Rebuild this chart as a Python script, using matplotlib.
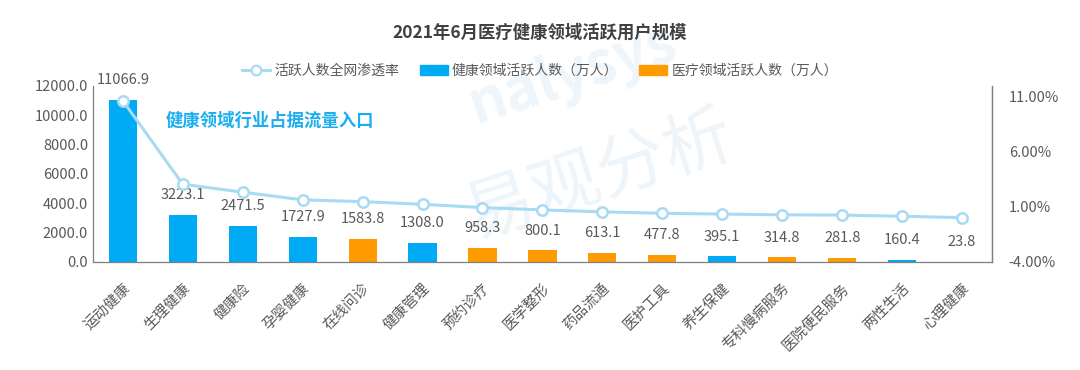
import matplotlib
matplotlib.use("Agg")
import matplotlib.pyplot as plt
from matplotlib.patches import Patch
from matplotlib.lines import Line2D
from matplotlib.ticker import FuncFormatter

plt.rcParams['font.family'] = ['Noto Sans CJK SC', 'DejaVu Sans']

categories = ["运动健康", "生理健康", "健康险", "孕婴健康", "在线问诊", "健康管理", "预约诊疗",
              "医学整形", "药品流通", "医护工具", "养生保健", "专科慢病服务", "医院便民服务",
              "两性生活", "心理健康"]
active_users = [11066.9, 3223.1, 2471.5, 1727.9, 1583.8, 1308.0, 958.3, 800.1, 613.1,
                477.8, 395.1, 314.8, 281.8, 160.4, 23.8]
domain = ["健康", "健康", "健康", "健康", "医疗", "健康", "医疗", "医疗", "医疗", "医疗",
          "健康", "医疗", "医疗", "健康", "健康"]
penetration = [10.64, 3.06, 2.34, 1.64, 1.48, 1.24, 0.94, 0.73, 0.55, 0.42, 0.35, 0.28,
               0.26, 0.15, 0.03]
left_ticks = [0, 2000, 4000, 6000, 8000, 10000, 12000]
right_ticks = [-4, 1, 6, 11]

BLUE = "#00AAF5"
ORANGE = "#FF9A00"
LINE = "#A9DAF3"
GRAY = "#595959"

fig = plt.figure(figsize=(10.8, 3.7), dpi=100)
ax = fig.add_axes([0.086, 0.292, 0.8325, 0.476])
ax.set_zorder(1)

# faint watermark behind everything
wm_ax = fig.add_axes([0, 0, 1, 1], zorder=0)
wm_ax.axis("off")
wm_ax.text(0.555, 0.52, "易观分析", fontsize=50, color="#EDF5FB", rotation=18,
           ha="center", va="center", transform=fig.transFigure)
wm_ax.text(0.53, 0.80, "nalysys", fontsize=42, color="#EEF6FB", rotation=18,
           ha="center", va="center", transform=fig.transFigure, fontweight="bold",
           style="italic")

x = list(range(len(categories)))
colors = [BLUE if d == "健康" else ORANGE for d in domain]
ax.bar(x, active_users, width=0.47, color=colors, zorder=2)

ax.set_xlim(-0.5, len(categories) - 0.5)
ax.set_ylim(0, 12000)
ax.set_yticks(left_ticks)
ax.yaxis.set_major_formatter(FuncFormatter(lambda v, p: f"{v:.1f}"))
ax.set_xticks(x)
ax.set_xticklabels(categories, rotation=45, ha="right", va="top", rotation_mode="anchor")
ax.tick_params(axis="both", length=0, labelsize=10.5, colors=GRAY)
ax.tick_params(axis="x", pad=14, labelsize=10.5)
ax.spines["top"].set_visible(False)
for s in ["left", "bottom", "right"]:
    ax.spines[s].set_color("#7f7f7f")
    ax.spines[s].set_linewidth(0.9)
ax.patch.set_alpha(0)

ax2 = ax.twinx()
ax2.plot(x, penetration, color=LINE, lw=2.2, marker="o", ms=7.5,
         markerfacecolor="white", markeredgecolor=LINE, markeredgewidth=1.8, zorder=3)
ax2.set_ylim(-4, 12)
ax2.set_yticks(right_ticks)
ax2.yaxis.set_major_formatter(FuncFormatter(lambda v, p: f"{v:.2f}%"))
ax2.tick_params(axis="y", length=0, labelsize=10.5, colors=GRAY, pad=12)
ax2.spines["top"].set_visible(False)
ax2.spines["left"].set_visible(False)
ax2.spines["bottom"].set_visible(False)
ax2.spines["right"].set_color("#7f7f7f")
ax2.spines["right"].set_linewidth(0.9)

# value labels
for i, v in enumerate(active_users):
    ax.annotate(f"{v:.1f}", xy=(i, v), xytext=(0, 9), textcoords="offset points",
                ha="center", va="bottom", fontsize=10.5, color=GRAY, annotation_clip=False)

ax.text(0.72, 9600, "健康领域行业占据流量入口", fontsize=12.5, color="#1AAEF0",
        fontweight="bold", ha="left", va="center")

fig.text(0.5, 0.913, "2021年6月医疗健康领域活跃用户规模", ha="center", va="center",
         fontsize=12.5, fontweight="bold", color="#404040")

handles = [Line2D([0], [0], color=LINE, lw=2.2, marker="o", ms=7, markerfacecolor="white",
                  markeredgecolor=LINE, markeredgewidth=1.6),
           Patch(color=BLUE), Patch(color=ORANGE)]
labels = ["活跃人数全网渗透率", "健康领域活跃人数（万人）", "医疗领域活跃人数（万人）"]
fig.legend(handles, labels, loc="center", bbox_to_anchor=(0.5, 0.808), ncol=3, frameon=False,
           fontsize=10, labelcolor=GRAY, handlelength=2.0, handletextpad=0.3,
           columnspacing=1.5)

fig.savefig("out.png", dpi=100)
